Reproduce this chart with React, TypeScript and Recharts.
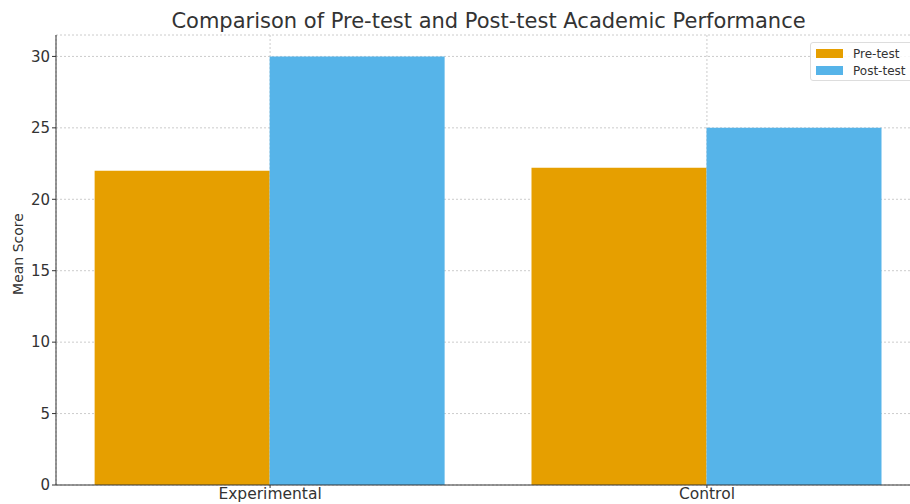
import { BarChart, Bar, XAxis, YAxis, CartesianGrid } from "recharts";

const groups = ["Experimental", "Control"];
const preTest = [22.0, 22.2];
const postTest = [30.0, 25.0];
const yTicks = [0, 5, 10, 15, 20, 25, 30];

const data = groups.map((g, i) => ({
  idx: i,
  group: g,
  pre: preTest[i],
  post: postTest[i],
}));

const font = "'DejaVu Sans', sans-serif";
const textColor = "#333";

export default function App() {
  return (
    <div
      style={{
        position: "absolute",
        left: 0,
        top: 0,
        width: 910,
        height: 504,
        overflow: "hidden",
        background: "#fff",
        fontFamily: font,
      }}
    >
      <div
        style={{
          position: "absolute",
          left: 56,
          width: 865,
          top: 8,
          textAlign: "center",
          fontSize: 21,
          lineHeight: "26px",
          color: textColor,
        }}
      >
        Comparison of Pre-test and Post-test Academic Performance
      </div>
      <BarChart
        width={921}
        height={504}
        data={data}
        margin={{ top: 35, right: 0, bottom: 0, left: 0 }}
        barGap={0}
      >
        <CartesianGrid stroke="#ccc" strokeDasharray="2 2" />
        <XAxis
          dataKey="idx"
          type="number"
          domain={[-0.49, 1.49]}
          ticks={[0, 1]}
          tickFormatter={(v: number) => groups[v] ?? ""}
          stroke={textColor}
          tickSize={3}
          tickMargin={0}
          height={19}
          tick={{ fill: textColor, fontSize: 15.5, fontFamily: font }}
          allowDataOverflow
        />
        <YAxis
          width={56}
          domain={[0, 31.5]}
          ticks={yTicks}
          stroke={textColor}
          tickSize={4}
          tick={{ fill: textColor, fontSize: 15, fontFamily: font }}
          label={{
            value: "Mean Score",
            angle: -90,
            position: "insideLeft",
            offset: 18,
            dy: -6,
            style: { fill: textColor, fontSize: 14, fontFamily: font, textAnchor: "middle" },
          }}
        />
        <Bar dataKey="pre" fill="#E69F00" barSize={175} isAnimationActive={false} />
        <Bar dataKey="post" fill="#56B4E9" barSize={175} isAnimationActive={false} />
      </BarChart>
      <div
        style={{
          position: "absolute",
          left: 810,
          top: 42,
          width: 120,
          height: 37,
          border: "1px solid #ddd",
          borderRadius: 3,
          background: "rgba(255,255,255,0.85)",
          fontSize: 12,
          color: textColor,
        }}
      >
        {[
          { name: "Pre-test", color: "#E69F00" },
          { name: "Post-test", color: "#56B4E9" },
        ].map((item, i) => (
          <div
            key={item.name}
            style={{
              position: "absolute",
              left: 5,
              top: 3 + i * 17,
              display: "flex",
              alignItems: "center",
              height: 15,
            }}
          >
            <span
              style={{
                display: "inline-block",
                width: 27,
                height: 9,
                background: item.color,
                marginRight: 10,
              }}
            />
            <span>{item.name}</span>
          </div>
        ))}
      </div>
    </div>
  );
}
